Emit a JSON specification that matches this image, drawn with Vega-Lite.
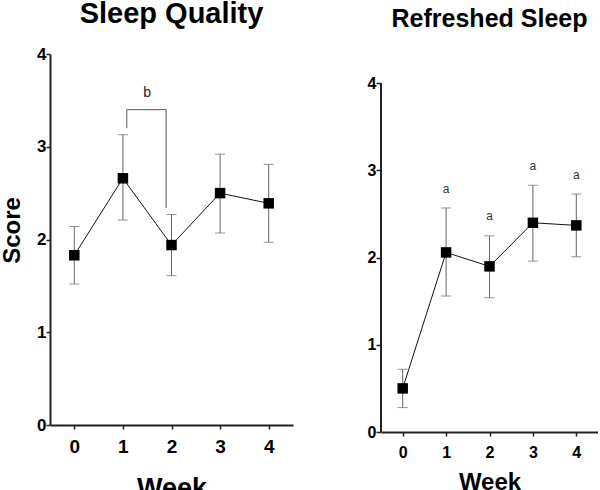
{
  "$schema": "https://vega.github.io/schema/vega-lite/v6.json",
  "padding": {"left": 0, "top": 0, "right": 0, "bottom": 0},
  "spacing": 74,
  "config": {
    "view": {"stroke": null},
    "font": "Liberation Sans",
    "axis": {"grid": false, "domainColor": "#222", "domainWidth": 2, "tickColor": "#222", "tickWidth": 1.5, "tickSize": 4, "labelColor": "#000", "labelFontWeight": "bold", "titleFontWeight": "bold", "titleColor": "#000", "labelFont": "Liberation Sans", "titleFont": "Liberation Sans", "format": "d"},
    "title": {"font": "Liberation Sans", "fontWeight": "bold", "color": "#000", "frame": "group", "baseline": "alphabetic", "anchor": "middle"}
  },
  "hconcat": [
    {
      "width": 243,
      "height": 371,
      "title": {"text": "Sleep Quality", "fontSize": 29, "offset": 16},
      "data": {"values": [
        {"week": 0, "mean": 1.83, "lo": 1.52, "hi": 2.14},
        {"week": 1, "mean": 2.66, "lo": 2.21, "hi": 3.13},
        {"week": 2, "mean": 1.94, "lo": 1.61, "hi": 2.27},
        {"week": 3, "mean": 2.50, "lo": 2.07, "hi": 2.92},
        {"week": 4, "mean": 2.39, "lo": 1.97, "hi": 2.81}
      ]},
      "layer": [
        {
          "mark": {"type": "rule", "color": "#666", "strokeWidth": 1},
          "encoding": {
            "x": {"field": "week", "type": "quantitative", "title": "Week", "scale": {"domain": [-0.5, 4.5], "nice": false, "zero": false},
              "axis": {"values": [0, 1, 2, 3, 4], "labelFontSize": 19, "labelPadding": 8.5, "titleFontSize": 27, "titlePadding": 19}},
            "y": {"field": "lo", "type": "quantitative", "title": "Score", "scale": {"domain": [0, 4], "nice": false},
              "axis": {"values": [0, 1, 2, 3, 4], "labelFontSize": 17, "labelPadding": 0, "titleFontSize": 24, "titlePadding": 12, "titleY": 176}},
            "y2": {"field": "hi"}
          }
        },
        {
          "mark": {"type": "tick", "orient": "horizontal", "color": "#666", "size": 10, "thickness": 1},
          "encoding": {
            "x": {"field": "week", "type": "quantitative", "title": "Week"},
            "y": {"field": "lo", "type": "quantitative", "title": "Score"}
          }
        },
        {
          "mark": {"type": "tick", "orient": "horizontal", "color": "#666", "size": 10, "thickness": 1},
          "encoding": {
            "x": {"field": "week", "type": "quantitative", "title": "Week"},
            "y": {"field": "hi", "type": "quantitative", "title": "Score"}
          }
        },
        {
          "mark": {"type": "line", "color": "#111", "strokeWidth": 1},
          "encoding": {
            "x": {"field": "week", "type": "quantitative", "title": "Week"},
            "y": {"field": "mean", "type": "quantitative", "title": "Score"}
          }
        },
        {
          "mark": {"type": "point", "shape": "square", "filled": true, "color": "#000", "size": 110, "opacity": 1},
          "encoding": {
            "x": {"field": "week", "type": "quantitative", "title": "Week"},
            "y": {"field": "mean", "type": "quantitative", "title": "Score"}
          }
        },
        {
          "data": {"values": [
            {"week": 1.08, "mean": 3.20, "o": 0},
            {"week": 1.08, "mean": 3.40, "o": 1},
            {"week": 1.89, "mean": 3.40, "o": 2},
            {"week": 1.89, "mean": 2.34, "o": 3}
          ]},
          "mark": {"type": "line", "color": "#555", "strokeWidth": 1},
          "encoding": {
            "x": {"field": "week", "type": "quantitative", "title": "Week"},
            "y": {"field": "mean", "type": "quantitative", "title": "Score"},
            "order": {"field": "o"}
          }
        },
        {
          "data": {"values": [{"week": 1.5, "mean": 3.58, "label": "b"}]},
          "mark": {"type": "text", "fontSize": 14, "color": "#222", "baseline": "middle"},
          "encoding": {
            "x": {"field": "week", "type": "quantitative", "title": "Week"},
            "y": {"field": "mean", "type": "quantitative", "title": "Score"},
            "text": {"field": "label"}
          }
        }
      ]
    },
    {
      "width": 217,
      "height": 378,
      "title": {"text": "Refreshed Sleep", "fontSize": 25, "offset": 22},
      "data": {"values": [
        {"week": 0, "mean": 0.50, "lo": 0.28, "hi": 0.72},
        {"week": 1, "mean": 2.06, "lo": 1.56, "hi": 2.57},
        {"week": 2, "mean": 1.90, "lo": 1.54, "hi": 2.25},
        {"week": 3, "mean": 2.40, "lo": 1.96, "hi": 2.83},
        {"week": 4, "mean": 2.37, "lo": 2.01, "hi": 2.73}
      ]},
      "layer": [
        {
          "mark": {"type": "rule", "color": "#666", "strokeWidth": 1},
          "encoding": {
            "x": {"field": "week", "type": "quantitative", "title": "Week", "scale": {"domain": [-0.5, 4.5], "nice": false, "zero": false},
              "axis": {"values": [0, 1, 2, 3, 4], "labelFontSize": 16, "labelPadding": 8, "titleFontSize": 24, "titlePadding": 10}},
            "y": {"field": "lo", "type": "quantitative", "title": null, "scale": {"domain": [0, 4.336], "nice": false},
              "axis": {"values": [0, 1, 2, 3, 4], "labelFontSize": 16, "labelPadding": 0, "tickSize": 5, "domain": false}},
            "y2": {"field": "hi"}
          }
        },
        {
          "data": {"values": [{"week": -0.5, "lo": 0, "hi": 4}]},
          "mark": {"type": "rule", "color": "#222", "strokeWidth": 2},
          "encoding": {
            "x": {"field": "week", "type": "quantitative", "title": "Week"},
            "y": {"field": "lo", "type": "quantitative", "title": null},
            "y2": {"field": "hi"}
          }
        },
        {
          "mark": {"type": "tick", "orient": "horizontal", "color": "#666", "size": 10, "thickness": 1},
          "encoding": {
            "x": {"field": "week", "type": "quantitative", "title": "Week"},
            "y": {"field": "lo", "type": "quantitative", "title": null}
          }
        },
        {
          "mark": {"type": "tick", "orient": "horizontal", "color": "#666", "size": 10, "thickness": 1},
          "encoding": {
            "x": {"field": "week", "type": "quantitative", "title": "Week"},
            "y": {"field": "hi", "type": "quantitative", "title": null}
          }
        },
        {
          "mark": {"type": "line", "color": "#111", "strokeWidth": 1},
          "encoding": {
            "x": {"field": "week", "type": "quantitative", "title": "Week"},
            "y": {"field": "mean", "type": "quantitative", "title": null}
          }
        },
        {
          "mark": {"type": "point", "shape": "square", "filled": true, "color": "#000", "size": 110, "opacity": 1},
          "encoding": {
            "x": {"field": "week", "type": "quantitative", "title": "Week"},
            "y": {"field": "mean", "type": "quantitative", "title": null}
          }
        },
        {
          "data": {"values": [
            {"week": 1, "mean": 2.79, "label": "a"},
            {"week": 2, "mean": 2.48, "label": "a"},
            {"week": 3, "mean": 3.05, "label": "a"},
            {"week": 4, "mean": 2.95, "label": "a"}
          ]},
          "mark": {"type": "text", "fontSize": 12, "color": "#333", "baseline": "middle"},
          "encoding": {
            "x": {"field": "week", "type": "quantitative", "title": "Week"},
            "y": {"field": "mean", "type": "quantitative", "title": null},
            "text": {"field": "label"}
          }
        }
      ]
    }
  ]
}
